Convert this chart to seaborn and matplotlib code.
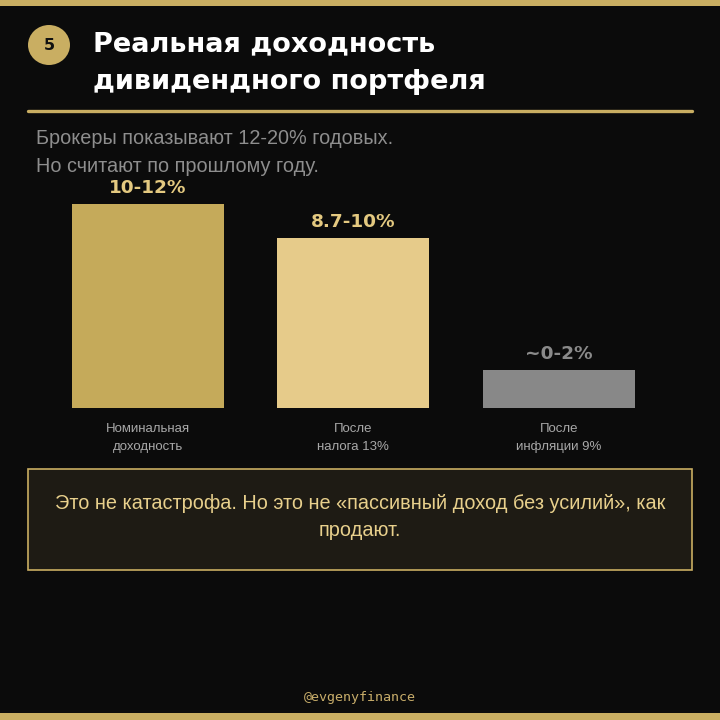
import matplotlib
matplotlib.use('Agg')
import matplotlib.pyplot as plt
import matplotlib.patches as patches
import seaborn as sns

# data
categories = ['Номинальная\nдоходность', 'После\nналога 13%', 'После\nинфляции 9%']
values = [12.0, 10.0, 2.2]
value_labels = ['10-12%', '8.7-10%', '~0-2%']
bar_colors = ['#c5aa5a', '#e6cb8a', '#888888']
label_colors = ['#e4c980', '#e4c980', '#8a8a8a']

title_lines = ['Реальная доходность', 'дивидендного портфеля']
subtitle_lines = ['Брокеры показывают 12-20% годовых.', 'Но считают по прошлому году.']
note_text = 'Это не катастрофа. Но это не «пассивный доход без усилий», как\nпродают.'
footer = '@evgenyfinance'

BG = '#0b0b0b'
GOLD = '#c9ae62'
BODY = ['Liberation Sans', 'DejaVu Sans']

sns.set_style('dark')
plt.rcParams['font.family'] = ['DejaVu Sans']

W = H = 720


def fx(x):
    return x / W


def fy(y):
    return 1 - y / H


fig = plt.figure(figsize=(7.2, 7.2), dpi=100, facecolor=BG)

# top and bottom gold stripes
fig.add_artist(patches.Rectangle((0, fy(6)), 1, 6 / H, transform=fig.transFigure,
                                 facecolor=GOLD, edgecolor='none'))
fig.add_artist(patches.Rectangle((0, 0), 1, 7 / H, transform=fig.transFigure,
                                 facecolor=GOLD, edgecolor='none'))

# number badge
fig.add_artist(patches.Ellipse((fx(49), fy(45)), 42 / W, 40 / H, transform=fig.transFigure,
                               facecolor=GOLD, edgecolor='none'))
fig.text(fx(49), fy(45), '5', ha='center', va='center', fontsize=11.5, fontweight='bold',
         color='#111111')

# title
for i, line in enumerate(title_lines):
    fig.text(fx(93), fy(44 + 38 * i), line, ha='left', va='center', fontsize=19.5,
             fontweight='bold', color='white')

# gold rule
fig.add_artist(plt.Line2D([fx(28), fx(692)], [fy(111), fy(111)], transform=fig.transFigure,
                          color=GOLD, lw=2.4))

# subtitle
for i, line in enumerate(subtitle_lines):
    fig.text(fx(36), fy(139 + 28 * i), line, ha='left', va='center', fontsize=14.3,
             color='#8e8e8e', family=BODY)

# bar chart
ax = fig.add_axes([fx(28), fy(407.5), (692 - 28) / W, (407.5 - 180) / H])
ax.set_facecolor(BG)
sns.barplot(x=categories, y=values, hue=categories, palette=bar_colors, width=0.74,
            legend=False, ax=ax, saturation=1, linewidth=0)
for c, lab, col in zip(ax.containers, value_labels, label_colors):
    ax.bar_label(c, labels=[lab], padding=5, fontsize=13.3, fontweight='bold', color=col)
ax.set_xlim((28 - 148) / 205.4, (692 - 148) / 205.4)
ax.set_ylim(0, (407.5 - 180) / ((407.5 - 204.3) / values[0]))
ax.set_xticks(range(len(categories)))
ax.set_xticklabels(categories, fontsize=9.5, color='#a8a8a8', linespacing=1.65,
                   family=BODY)
ax.tick_params(axis='x', length=0, pad=11)
ax.set_yticks([])
ax.set_xlabel('')
ax.set_ylabel('')
ax.grid(False)
for s in ax.spines.values():
    s.set_visible(False)

# note box
fig.add_artist(patches.Rectangle((fx(28), fy(570)), (692 - 28) / W, (570 - 469) / H,
                                 transform=fig.transFigure, facecolor='#1e1b14',
                                 edgecolor=GOLD, lw=1.2))
fig.text(fx(360), fy(517), note_text, ha='center', va='center', fontsize=14.3,
         color='#e8d08c', linespacing=1.55, family=BODY)

# footer
fig.text(fx(360), fy(697), footer, ha='center', va='center', fontsize=9.6,
         color='#c8ad6a', family='DejaVu Sans Mono')

fig.savefig('out.png', dpi=100, facecolor=BG)
